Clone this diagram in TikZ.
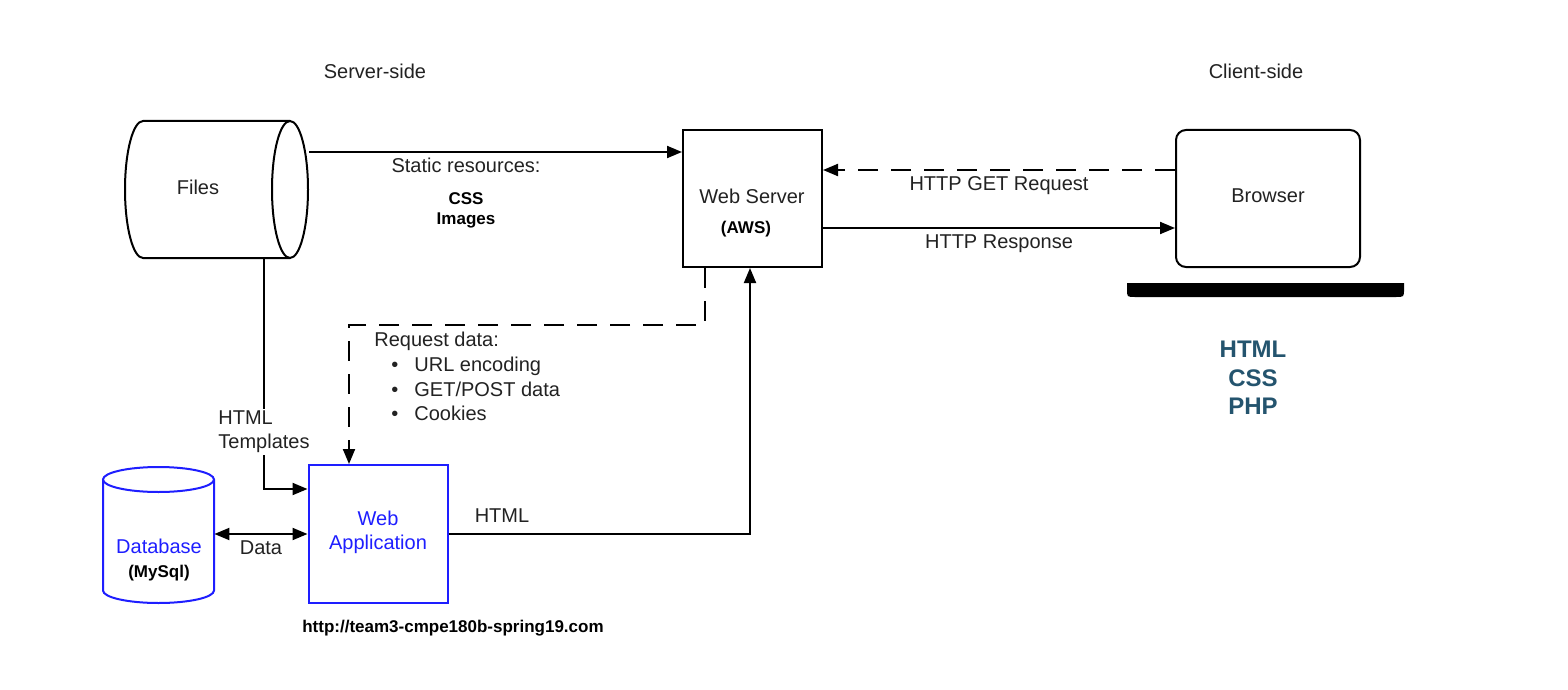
\documentclass[tikz,border=0pt]{standalone}
\usepackage{fontspec}
\setmainfont{Liberation Sans}
\usepackage{xcolor}
\usetikzlibrary{shapes.geometric, arrows.meta, positioning}

\definecolor{inkgray}{HTML}{222222}
\definecolor{appblue}{HTML}{1E1EFF}
\definecolor{stackteal}{HTML}{24546E}

\newcommand{\reqitem}[1]{\hspace*{8.5pt}\textbullet\hspace{8pt}#1}

\tikzset{
  box/.style={rectangle, draw=black, line width=1pt, fill=white},
  anchorbox/.style={rectangle, draw=none, inner sep=0pt},
  arr/.style={-{Triangle[length=7.5pt, width=6pt]}, line width=1pt},
  dblarr/.style={{Triangle[length=7.5pt, width=6pt]}-{Triangle[length=7.5pt, width=6pt]}, line width=1pt},
  dash line/.style={dash pattern=on 10pt off 6.5pt},
  txt/.style={text=inkgray, font=\fontsize{10pt}{12pt}\selectfont, inner sep=1pt},
  smallbold/.style={text=black, font=\fontsize{8.5pt}{10pt}\selectfont\bfseries, inner sep=1pt},
}

\begin{document}
\begin{tikzpicture}[x=0.5pt, y=-0.5pt]

\useasboundingbox (0,0) rectangle (1568,690);

% Headings
\node (server) [txt] at (375,71) {Server-side};
\node (client) [txt] at (1256,71) {Client-side};

% Nodes
\node (files) [anchorbox, minimum width=92pt, minimum height=68.5pt] at (217,189.5) {};
\draw [line width=1pt, fill=white] (290,121) -- (143,121)
  arc[start angle=90, end angle=270, x radius=9pt, y radius=34.25pt] -- (290,258);
\draw [line width=1pt, fill=white] (290,189.5) ellipse [x radius=9pt, y radius=34.25pt];
\node (filestxt) [txt] at (198,187) {Files};

\node (ws) [box, minimum width=69.5pt, minimum height=68.5pt] at (752.5,198.5) {};
\node (wstxt) [txt] at (752,196) {Web Server};
\node (aws) [smallbold] at (746,229) {(AWS)};

\node (br) [box, rounded corners=5pt, minimum width=92pt, minimum height=68.5pt] at (1268,198.5) {};
\node (brtxt) [txt] at (1268,196) {Browser};

\node (wa) [box, draw=appblue, minimum width=69.5pt, minimum height=69pt] at (378,534) {};
\node (watxt) [txt, text=appblue, align=center] at (378,532) {Web\\Application};

\node (db) [anchorbox, minimum width=55.5pt, minimum height=68pt] at (158.5,535) {};
\draw [appblue, line width=1pt, fill=white] (103,479.5) -- (103,590.5)
  arc[start angle=180, end angle=360, x radius=27.75pt, y radius=6.25pt] -- (214,479.5);
\draw [appblue, line width=1pt, fill=white] (158.5,479.5) ellipse [x radius=27.75pt, y radius=6.25pt];
\node (dbtxt) [txt, text=appblue] at (159,546) {Database};
\node (mysql) [smallbold] at (159,573) {(MySql)};

% Laptop base under the browser
\fill (1127,283) -- (1404,283) -- (1404,289) .. controls (1404,297) .. (1396,297)
  -- (1135,297) .. controls (1127,297) .. (1127,289) -- cycle;

\node (stack) [text=stackteal, font=\fontsize{12pt}{14.25pt}\selectfont\bfseries, align=center] at (1253,378) {HTML\\CSS\\PHP};

% Arrows
\draw [arr] (files.east |- 0,152) -- (ws.west |- 0,152);
\node (static) [txt] at (466,165) {Static resources:};
\node (cssimg) [smallbold, align=center] at (466,210) {CSS\\Images};

\draw [arr, dash line] (br.west |- 0,170) -- node[txt, below=2pt] {HTTP GET Request} (ws.east |- 0,170);
\draw [arr] (ws.east |- 0,228) -- node[txt, below=2pt] {HTTP Response} (br.west |- 0,228);

\draw [arr] (files.south -| 264,0) |- (wa.west |- 0,489);
\node (tmpl) [txt, fill=white, align=left, anchor=west] at (216,432) {HTML\\Templates};

\draw [arr, dash line] (ws.south -| 705,0) -- ++(0,57) -| (wa.north -| 349,0);
\node (req) [txt, font=\fontsize{10pt}{12.3pt}\selectfont, align=left, anchor=north west] at (372,330) {Request data:\\\reqitem{URL encoding}\\\reqitem{GET/POST data}\\\reqitem{Cookies}};

\draw [dblarr] (db.east |- 0,534) -- node[txt, below=2pt] {Data} (wa.west |- 0,534);

\draw [arr] (wa.east |- 0,534) -| (ws.south -| 750,0);
\node (html) [txt] at (502,516) {HTML};

\node (url) [smallbold] at (453,628) {http://team3-cmpe180b-spring19.com};

\end{tikzpicture}
\end{document}
